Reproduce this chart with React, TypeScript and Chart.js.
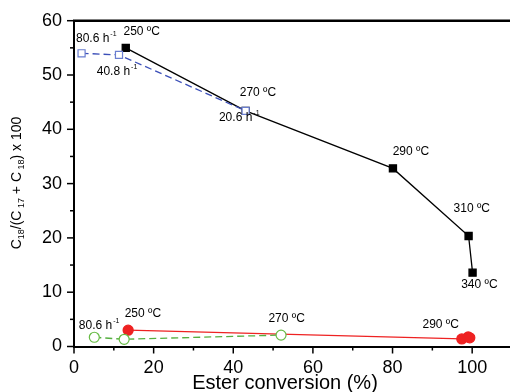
import React, { useEffect, useRef } from 'react';
import { Chart, registerables } from 'chart.js';
Chart.register(...registerables);

// Temperature series (filled black squares)
const tempX = [13.0, 43.1, 80.1, 99.1, 100.1];
const tempY = [55.0, 43.4, 32.8, 20.35, 13.6];
// WHSV series (open blue squares, dashed)
const whsvX = [1.9, 11.3, 43.1];
const whsvY = [54.0, 53.7, 43.4];
// Second catalyst temperature series (filled red circles)
const redX = [13.6, 97.4, 99.0, 99.4];
const redY = [3.0, 1.4, 1.75, 1.6];
// Second catalyst WHSV series (open green circles, dashed)
const greenX = [5.1, 12.6, 52.0];
const greenY = [1.7, 1.33, 2.1];

const xTickValues = [0, 20, 40, 60, 80, 100];
const yTickValues = [0, 10, 20, 30, 40, 50, 60];

const labelTexts = ['250 ºC', '80.6 h', '40.8 h', '270 ºC', '20.6 h', '290 ºC', '310 ºC', '340 ºC', '250 ºC', '80.6 h', '270 ºC', '290 ºC'];
const labelSups = ['', '-1', '-1', '', '-1', '', '', '', '', '-1', '', ''];
const labelX = [17.0, 5.6, 10.8, 46.2, 41.5, 84.6, 99.9, 101.8, 17.3, 6.3, 53.4, 92.1];
const labelY = [58.0, 56.6, 50.6, 46.7, 42.1, 35.9, 25.3, 11.3, 6.1, 3.8, 5.2, 4.0];

const xTitle = 'Ester conversion (%)';

const FONT = '"Liberation Sans", Arial, sans-serif';

const decor = {
  id: 'decor',
  afterDraw(chart: any) {
    const { ctx, chartArea, scales } = chart;
    const { left, top, right, bottom } = chartArea;
    const x = scales.x, y = scales.y;
    ctx.save();
    ctx.strokeStyle = '#000';
    ctx.lineWidth = 2.5;
    ctx.beginPath();
    ctx.moveTo(left - 1, top);
    ctx.lineTo(right, top);
    ctx.stroke();
    ctx.lineWidth = 1.5;
    // x ticks
    for (let i = 0; i < xTickValues.length; i++) {
      const v = xTickValues[i];
      const px = x.getPixelForValue(v);
      ctx.beginPath(); ctx.moveTo(px, bottom); ctx.lineTo(px, bottom + 7); ctx.stroke();
      const mv = v + 10;
      if (mv < x.max) {
        const mp = x.getPixelForValue(mv);
        ctx.beginPath(); ctx.moveTo(mp, bottom); ctx.lineTo(mp, bottom + 4); ctx.stroke();
      }
    }
    for (let i = 0; i < yTickValues.length; i++) {
      const v = yTickValues[i];
      const py = y.getPixelForValue(v);
      ctx.beginPath(); ctx.moveTo(left, py); ctx.lineTo(left - 7, py); ctx.stroke();
      const mv = v + 5;
      if (mv < y.max) {
        const mp = y.getPixelForValue(mv);
        ctx.beginPath(); ctx.moveTo(left, mp); ctx.lineTo(left - 4, mp); ctx.stroke();
      }
    }
    // annotations
    ctx.fillStyle = '#000';
    ctx.textBaseline = 'middle';
    ctx.textAlign = 'left';
    for (let i = 0; i < labelTexts.length; i++) {
      const px = x.getPixelForValue(labelX[i]);
      const py = y.getPixelForValue(labelY[i]);
      ctx.font = '12px ' + FONT;
      const w1 = ctx.measureText(labelTexts[i]).width;
      ctx.font = '7px ' + FONT;
      const w2 = labelSups[i] ? ctx.measureText(labelSups[i]).width + 1 : 0;
      const sx = px - (w1 + w2) / 2;
      ctx.font = '12px ' + FONT;
      ctx.fillText(labelTexts[i], sx, py);
      if (labelSups[i]) {
        ctx.font = '7px ' + FONT;
        ctx.fillText(labelSups[i], sx + w1 + 1, py - 5);
      }
    }
    // x title
    ctx.font = '20px ' + FONT;
    ctx.textAlign = 'center';
    ctx.textBaseline = 'alphabetic';
    ctx.fillText(xTitle, (left + right) / 2 - 7, 389);
    // y title with subscripts
    const segs: [string, boolean][] = [['C', false], ['18', true], ['/(C', false], [' 17', true], [' + C', false], [' 18', true], [') x 100', false]];
    const mainF = '14px ' + FONT, subF = '9px ' + FONT;
    let total = 0;
    for (const [t, s] of segs) { ctx.font = s ? subF : mainF; total += ctx.measureText(t).width; }
    ctx.translate(21, 183);
    ctx.rotate(-Math.PI / 2);
    ctx.textAlign = 'left';
    let cx = -total / 2;
    for (const [t, s] of segs) {
      ctx.font = s ? subF : mainF;
      ctx.fillText(t, cx, s ? 3 : 0);
      cx += ctx.measureText(t).width;
    }
    ctx.restore();
  },
};

const pts = (xs: number[], ys: number[]) => xs.map((v, i) => ({ x: v, y: ys[i] }));

export default function App() {
  const ref = useRef<HTMLCanvasElement>(null);
  useEffect(() => {
    const chart = new Chart(ref.current!, {
      type: 'scatter',
      data: {
        datasets: [
          { data: pts(whsvX, whsvY), showLine: true, borderColor: '#3b4fb8', borderWidth: 1.3, borderDash: [7, 4], pointStyle: 'rect', pointRadius: 5, pointBorderColor: '#6a7ed0', pointBackgroundColor: '#ffffff', pointBorderWidth: 1.2, clip: false },
          { data: pts(tempX, tempY), showLine: true, borderColor: '#000', borderWidth: 1.3, pointStyle: 'rect', pointRadius: 5, pointBorderColor: '#000', pointBackgroundColor: '#000', clip: false },
          { data: pts(greenX, greenY), showLine: true, borderColor: '#55b040', borderWidth: 1.3, borderDash: [7, 4], pointStyle: 'circle', pointRadius: 5, pointBorderColor: '#66bb44', pointBackgroundColor: '#ffffff', pointBorderWidth: 1.2, clip: false },
          { data: pts(redX, redY), showLine: true, borderColor: '#ee2222', borderWidth: 1.3, pointStyle: 'circle', pointRadius: 5, pointBorderColor: '#ee2222', pointBackgroundColor: '#ee2222', clip: false },
        ] as any,
      },
      options: {
        animation: false,
        responsive: false,
        maintainAspectRatio: false,
        layout: { autoPadding: false, padding: { top: 20.7, right: 0, left: 0, bottom: 0 } },
        plugins: { legend: { display: false }, tooltip: { enabled: false } },
        scales: {
          x: {
            type: 'linear', min: 0, max: 109.5,
            afterFit: (s: any) => { s.height = 45.5; s.paddingLeft = 0; s.paddingRight = 0; },
            afterBuildTicks: (s: any) => { s.ticks = xTickValues.map((v) => ({ value: v })); },
            grid: { display: false },
            border: { display: true, color: '#000', width: 2 },
            ticks: { color: '#000', font: { size: 18, family: FONT }, padding: 3, maxRotation: 0 },
          },
          y: {
            type: 'linear', min: 0, max: 60,
            afterFit: (s: any) => { s.width = 74; s.paddingTop = 0; s.paddingBottom = 0; },
            afterBuildTicks: (s: any) => { s.ticks = yTickValues.map((v) => ({ value: v })); },
            grid: { display: false },
            border: { display: true, color: '#000', width: 2 },
            ticks: { color: '#000', font: { size: 18, family: FONT }, padding: 4 },
          },
        },
      } as any,
      plugins: [decor],
    });
    return () => chart.destroy();
  }, []);
  return (
    <div style={{ position: 'absolute', left: 0, top: 0, width: 510, height: 392, background: '#fff' }}>
      <canvas ref={ref} width={510} height={392} />
    </div>
  );
}
